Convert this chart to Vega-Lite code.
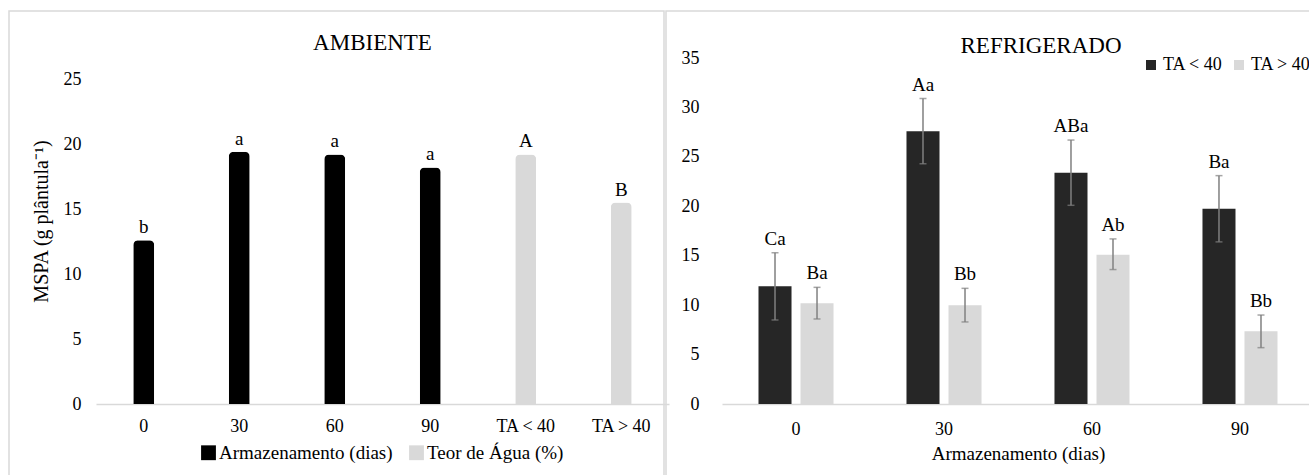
{
  "$schema": "https://vega.github.io/schema/vega-lite/v6.json",
  "padding": {"left": 8, "top": 10, "right": 0, "bottom": 0},
  "background": "white",
  "spacing": 0,
  "datasets": {
    "ambiente": [
      {"cat": "0", "serie": "Armazenamento (dias)", "mspa": 12.6, "letra": "b"},
      {"cat": "30", "serie": "Armazenamento (dias)", "mspa": 19.4, "letra": "a"},
      {"cat": "60", "serie": "Armazenamento (dias)", "mspa": 19.2, "letra": "a"},
      {"cat": "90", "serie": "Armazenamento (dias)", "mspa": 18.2, "letra": "a"},
      {"cat": "TA < 40", "serie": "Teor de Água (%)", "mspa": 19.2, "letra": "A"},
      {"cat": "TA > 40", "serie": "Teor de Água (%)", "mspa": 15.5, "letra": "B"}
    ],
    "refrigerado": [
      {"dias": "0", "teor": "TA < 40", "mspa": 11.9, "lo": 8.5, "hi": 15.3, "letra": "Ca"},
      {"dias": "0", "teor": "TA > 40", "mspa": 10.2, "lo": 8.6, "hi": 11.8, "letra": "Ba"},
      {"dias": "30", "teor": "TA < 40", "mspa": 27.6, "lo": 24.3, "hi": 30.9, "letra": "Aa"},
      {"dias": "30", "teor": "TA > 40", "mspa": 10.0, "lo": 8.3, "hi": 11.7, "letra": "Bb"},
      {"dias": "60", "teor": "TA < 40", "mspa": 23.4, "lo": 20.1, "hi": 26.7, "letra": "ABa"},
      {"dias": "60", "teor": "TA > 40", "mspa": 15.1, "lo": 13.6, "hi": 16.7, "letra": "Ab"},
      {"dias": "90", "teor": "TA < 40", "mspa": 19.75, "lo": 16.4, "hi": 23.1, "letra": "Ba"},
      {"dias": "90", "teor": "TA > 40", "mspa": 7.35, "lo": 5.7, "hi": 9.0, "letra": "Bb"}
    ]
  },
  "hconcat": [
    {
      "width": 655,
      "height": 470,
      "title": {"text": "AMBIENTE", "offset": -62, "dx": 36, "baseline": "alphabetic", "fontSize": 23},
      "data": {"name": "ambiente"},
      "encoding": {
        "x": {
          "field": "cat", "type": "nominal", "sort": null,
          "scale": {"domain": ["0", "30", "60", "90", "TA < 40", "TA > 40"], "range": [87, 660], "paddingInner": 0, "paddingOuter": 0},
          "axis": {"orient": "bottom", "offset": -77, "labelAngle": 0, "labelPadding": 13, "labelFontSize": 18, "title": null, "domainColor": "#d9d9d9", "domainWidth": 1.5}
        },
        "y": {
          "field": "mspa", "type": "quantitative",
          "scale": {"domain": [0, 25], "range": [393, 68], "nice": false},
          "axis": {"orient": "left", "offset": -87, "domain": false, "values": [0, 5, 10, 15, 20, 25], "labelPadding": 15, "labelFontSize": 18,
                   "title": "MSPA (g plântula⁻¹)", "titleFontSize": 20, "titleX": -55, "titleY": 210, "titleAngle": -90, "titleBaseline": "middle", "titleAlign": "center"}
        }
      },
      "layer": [
        {
          "mark": {"type": "bar", "width": 21, "cornerRadiusTopLeft": 5, "cornerRadiusTopRight": 5},
          "encoding": {
            "color": {
              "field": "serie", "type": "nominal",
              "scale": {"domain": ["Armazenamento (dias)", "Teor de Água (%)"], "range": ["#000000", "#d9d9d9"]},
              "legend": {"orient": "none", "legendX": 190, "legendY": 432, "direction": "horizontal", "title": null,
                         "symbolType": "square", "symbolSize": 220, "symbolStrokeWidth": 0, "labelOffset": 1, "columnPadding": 14, "labelFontSize": 19, "labelLimit": 400}
            }
          }
        },
        {
          "mark": {"type": "text", "dy": -7, "baseline": "alphabetic", "fontSize": 19, "color": "#000"},
          "encoding": {"text": {"field": "letra"}}
        }
      ]
    },
    {
      "width": 660,
      "height": 470,
      "title": {"text": "REFRIGERADO", "offset": -65, "dx": 45, "baseline": "alphabetic", "fontSize": 23},
      "data": {"name": "refrigerado"},
      "encoding": {
        "x": {
          "field": "dias", "type": "nominal", "sort": null,
          "scale": {"domain": ["0", "30", "60", "90"], "range": [56, 648], "paddingInner": 0.493, "paddingOuter": 0.2466},
          "axis": {"orient": "bottom", "offset": -77, "labelAngle": 0, "labelPadding": 16, "labelFontSize": 18, "title": "Armazenamento (dias)", "titleFontSize": 19, "titlePadding": 6, "domainColor": "#d9d9d9", "domainWidth": 1.5}
        },
        "xOffset": {
          "field": "teor", "type": "nominal",
          "scale": {"domain": ["TA < 40", "TA > 40"], "paddingInner": 0.214, "paddingOuter": 0}
        },
        "y": {
          "field": "mspa", "type": "quantitative",
          "scale": {"domain": [0, 35], "range": [393, 47], "nice": false},
          "axis": {"orient": "left", "offset": -56, "domain": false, "values": [0, 5, 10, 15, 20, 25, 30, 35], "labelPadding": 23, "labelFontSize": 18, "title": null}
        }
      },
      "layer": [
        {
          "mark": {"type": "bar"},
          "encoding": {
            "color": {
              "field": "teor", "type": "nominal",
              "scale": {"domain": ["TA < 40", "TA > 40"], "range": ["#262626", "#d9d9d9"]},
              "legend": {"orient": "none", "legendX": 476, "legendY": 45, "direction": "horizontal", "title": null,
                         "symbolType": "square", "symbolSize": 100, "symbolStrokeWidth": 0, "labelOffset": 3, "columnPadding": 7, "labelFontSize": 18}
            }
          }
        },
        {
          "mark": {"type": "rule", "color": "#808080", "strokeWidth": 1.5},
          "encoding": {"y": {"field": "lo", "type": "quantitative"}, "y2": {"field": "hi"}}
        },
        {
          "mark": {"type": "tick", "color": "#808080", "thickness": 1.5, "size": 7, "orient": "horizontal"},
          "encoding": {"y": {"field": "lo", "type": "quantitative"}}
        },
        {
          "mark": {"type": "tick", "color": "#808080", "thickness": 1.5, "size": 7, "orient": "horizontal"},
          "encoding": {"y": {"field": "hi", "type": "quantitative"}}
        },
        {
          "mark": {"type": "text", "dy": -8, "baseline": "alphabetic", "fontSize": 19, "color": "#000"},
          "encoding": {"y": {"field": "hi", "type": "quantitative"}, "text": {"field": "letra"}}
        }
      ]
    }
  ],
  "resolve": {
    "scale": {"x": "independent", "y": "independent", "color": "independent", "xOffset": "independent"},
    "legend": {"color": "independent"}
  },
  "config": {
    "font": "Liberation Serif",
    "view": {"stroke": "#d9d9d9", "strokeWidth": 1.5},
    "title": {"font": "Liberation Serif", "fontWeight": "normal", "color": "#000", "anchor": "middle", "frame": "group"},
    "axis": {"labelFont": "Liberation Serif", "titleFont": "Liberation Serif", "labelColor": "#000", "titleColor": "#000",
             "labelFontSize": 17, "titleFontSize": 17, "titleFontWeight": "normal", "grid": false, "ticks": false},
    "legend": {"labelFont": "Liberation Serif", "labelFontSize": 17, "labelColor": "#000"},
    "text": {"font": "Liberation Serif"}
  }
}
